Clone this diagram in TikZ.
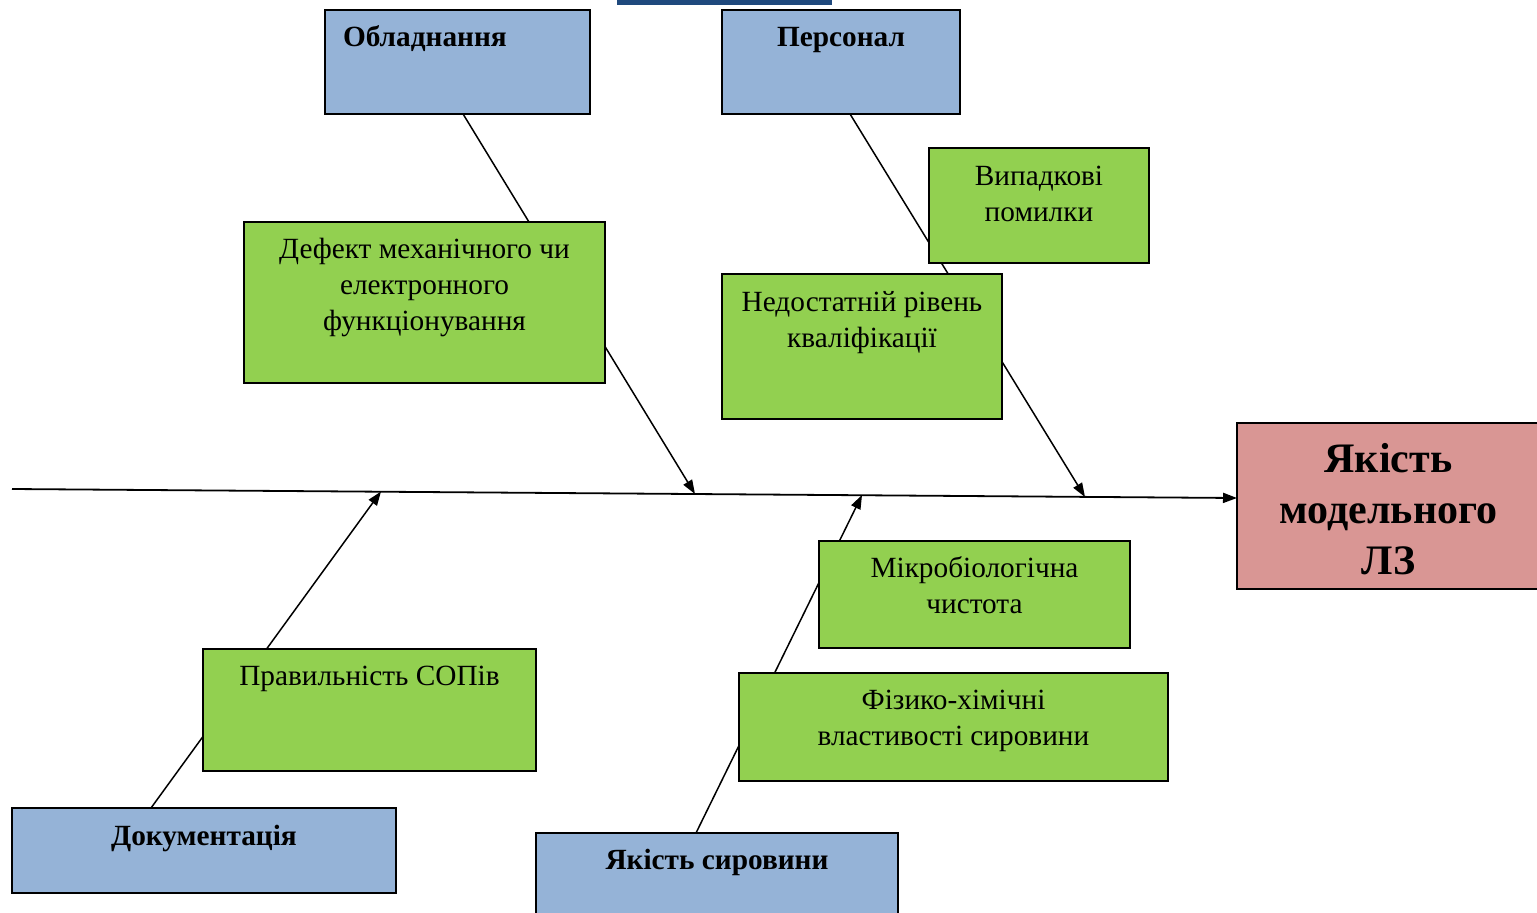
\documentclass[tikz,border=0pt]{standalone}
\usepackage{fontspec}
\setmainfont{Liberation Serif}
\usetikzlibrary{arrows.meta,backgrounds,calc}
\definecolor{bluebox}{RGB}{149,179,215}
\definecolor{greenbox}{RGB}{146,208,80}
\definecolor{redbox}{RGB}{217,150,148}
\definecolor{titlebar}{RGB}{31,73,125}
\newcommand{\bxc}[4]{\parbox[t][#2pt][t]{#1pt}{\centering\vspace*{#3pt}\strut#4\par}}
\newcommand{\bxl}[5]{\parbox[t][#2pt][t]{#1pt}{\vspace*{#3pt}\hspace*{#4pt}\strut#5\par}}
\tikzset{
  base/.style={draw=black, line width=1.6pt, inner sep=0pt, outer sep=0pt, anchor=north west,
    font=\fontsize{29.3pt}{36pt}\selectfont},
  cat/.style={base, fill=bluebox, font=\fontsize{29.3pt}{36pt}\selectfont\bfseries},
  cause/.style={base, fill=greenbox},
  effect/.style={base, fill=redbox, font=\fontsize{42pt}{51pt}\selectfont\bfseries},
  branch/.style={line width=1.5pt, -{Triangle[length=14pt,width=10pt]}},
  spine/.style={line width=1.8pt, -{Triangle[length=14pt,width=10pt]}}
}
\begin{document}
\begin{tikzpicture}[x=1pt,y=-1pt]
\useasboundingbox (0,0) rectangle (1537,913);
\fill[titlebar] (617,0) rectangle (832,5);
% category boxes
\node[cat] (obl) at (325,10) {\bxl{265}{104}{11.5}{18}{Обладнання}};
\node[cat] (pers) at (722,10) {\bxc{238}{104}{11.5}{Персонал}};
\node[cat] (dok) at (12,808) {\bxc{384}{85}{12.5}{Документація}};
\node[cat] (syr) at (536,833) {\bxc{362}{90}{11.5}{Якість сировини}};
% cause boxes
\node[cause] (vyp) at (929,148) {\bxc{220}{115}{12.5}{Випадкові\\помилки}};
\node[cause] (def) at (244,222) {\bxc{361}{161}{11}{Дефект механічного чи\\електронного\\функціонування}};
\node[cause] (ned) at (722,274) {\bxc{280}{145}{12.5}{Недостатній рівень\\кваліфікації}};
\node[cause] (mik) at (819,541) {\bxc{311}{107}{11.5}{Мікробіологічна\\чистота}};
\node[cause] (fiz) at (739,673) {\bxc{429}{108}{11.5}{Фізико-хімічні\\властивості сировини}};
\node[cause] (prav) at (203,649) {\bxc{333}{122}{11.5}{Правильність СОПів}};
% effect
\node[effect] (ly) at (1237,423) {\bxc{303}{166}{13.5}{Якість\\модельного\\ЛЗ}};
% spine points
\coordinate (tail) at (12,489);
\coordinate (head) at (1237,498);
\coordinate (pObl) at (695,494);
\coordinate (pPers) at (1085,497);
\coordinate (pDok) at (381,491.5);
\coordinate (pSyr) at (862,495);
\begin{scope}[on background layer]
\draw[spine] (tail) -- (head);
\draw[branch] ($(obl.south west)!0.521!(obl.south east)$) -- (pObl);
\draw[branch] ($(pers.south west)!0.538!(pers.south east)$) -- (pPers);
\draw[branch] ($(dok.north west)!0.362!(dok.north east)$) -- (pDok);
\draw[branch] ($(syr.north west)!0.442!(syr.north east)$) -- (pSyr);
\end{scope}
\end{tikzpicture}
\end{document}
